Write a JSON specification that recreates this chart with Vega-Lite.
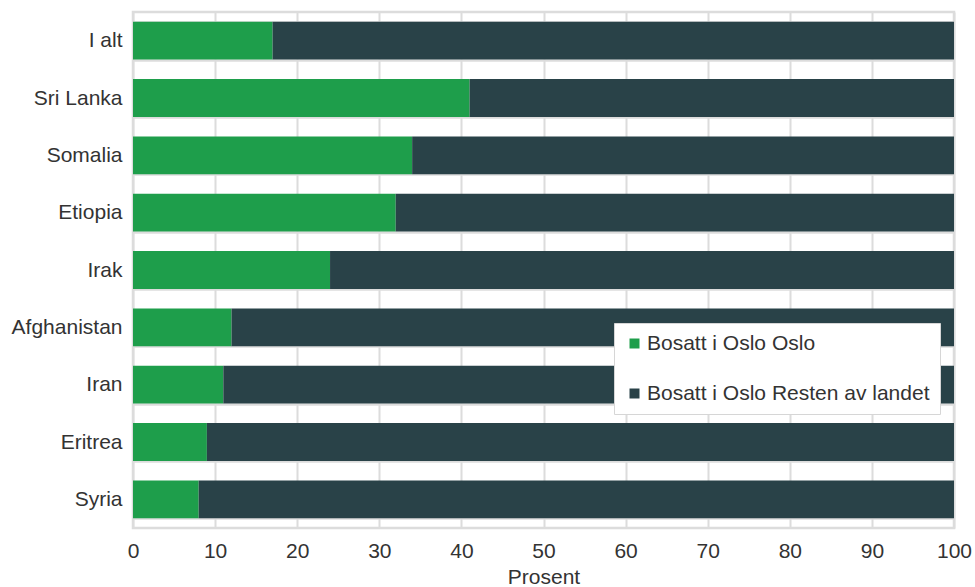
{
  "$schema": "https://vega.github.io/schema/vega-lite/v6.json",
  "autosize": "none",
  "padding": {"left": 133, "top": 12, "right": 21, "bottom": 59},
  "width": 821,
  "height": 516,
  "background": "white",
  "config": {
    "font": "Liberation Sans",
    "view": {"stroke": "#dcdcdc", "strokeWidth": 2.5},
    "axis": {"labelFont": "Liberation Sans", "titleFont": "Liberation Sans", "labelColor": "#333333", "titleColor": "#333333"},
    "legend": {"labelFont": "Liberation Sans"}
  },
  "data": {
    "values": [
      {"land": "I alt", "bosted": "Bosatt i Oslo Oslo", "prosent": 17},
      {"land": "I alt", "bosted": "Bosatt i Oslo Resten av landet", "prosent": 83},
      {"land": "Sri Lanka", "bosted": "Bosatt i Oslo Oslo", "prosent": 41},
      {"land": "Sri Lanka", "bosted": "Bosatt i Oslo Resten av landet", "prosent": 59},
      {"land": "Somalia", "bosted": "Bosatt i Oslo Oslo", "prosent": 34},
      {"land": "Somalia", "bosted": "Bosatt i Oslo Resten av landet", "prosent": 66},
      {"land": "Etiopia", "bosted": "Bosatt i Oslo Oslo", "prosent": 32},
      {"land": "Etiopia", "bosted": "Bosatt i Oslo Resten av landet", "prosent": 68},
      {"land": "Irak", "bosted": "Bosatt i Oslo Oslo", "prosent": 24},
      {"land": "Irak", "bosted": "Bosatt i Oslo Resten av landet", "prosent": 76},
      {"land": "Afghanistan", "bosted": "Bosatt i Oslo Oslo", "prosent": 12},
      {"land": "Afghanistan", "bosted": "Bosatt i Oslo Resten av landet", "prosent": 88},
      {"land": "Iran", "bosted": "Bosatt i Oslo Oslo", "prosent": 11},
      {"land": "Iran", "bosted": "Bosatt i Oslo Resten av landet", "prosent": 89},
      {"land": "Eritrea", "bosted": "Bosatt i Oslo Oslo", "prosent": 9},
      {"land": "Eritrea", "bosted": "Bosatt i Oslo Resten av landet", "prosent": 91},
      {"land": "Syria", "bosted": "Bosatt i Oslo Oslo", "prosent": 8},
      {"land": "Syria", "bosted": "Bosatt i Oslo Resten av landet", "prosent": 92}
    ]
  },
  "mark": {"type": "bar"},
  "encoding": {
    "y": {
      "field": "land",
      "type": "nominal",
      "sort": null,
      "scale": {"paddingInner": 0.34, "paddingOuter": 0.17},
      "axis": {
        "title": null,
        "ticks": false,
        "domain": false,
        "labelFontSize": 21,
        "labelPadding": 11,
        "labelLimit": 200,
        "grid": true,
        "tickBand": "extent",
        "gridColor": "#dcdcdc",
        "gridWidth": 2.5
      }
    },
    "x": {
      "field": "prosent",
      "type": "quantitative",
      "stack": "zero",
      "scale": {"domain": [0, 100], "nice": false},
      "axis": {
        "title": "Prosent",
        "titleFontSize": 21,
        "titleFontWeight": "normal",
        "titlePadding": 5,
        "values": [0, 10, 20, 30, 40, 50, 60, 70, 80, 90, 100],
        "labelFontSize": 21,
        "labelPadding": 12,
        "ticks": false,
        "domain": false,
        "grid": true,
        "gridColor": "#dcdcdc",
        "gridWidth": 2,
        "labelFlush": false
      }
    },
    "color": {
      "field": "bosted",
      "type": "nominal",
      "scale": {
        "domain": ["Bosatt i Oslo Oslo", "Bosatt i Oslo Resten av landet"],
        "range": ["#1e9e4b", "#294248"]
      },
      "legend": {
        "title": null,
        "orient": "none",
        "legendX": 481,
        "legendY": 311,
        "symbolType": "square",
        "symbolSize": 100,
        "symbolStrokeWidth": 0,
        "labelFontSize": 21,
        "labelColor": "#333333",
        "labelOffset": 2,
        "labelLimit": 500,
        "rowPadding": 28,
        "padding": 10,
        "fillColor": "white",
        "strokeColor": "#d6d6d6"
      }
    }
  }
}
